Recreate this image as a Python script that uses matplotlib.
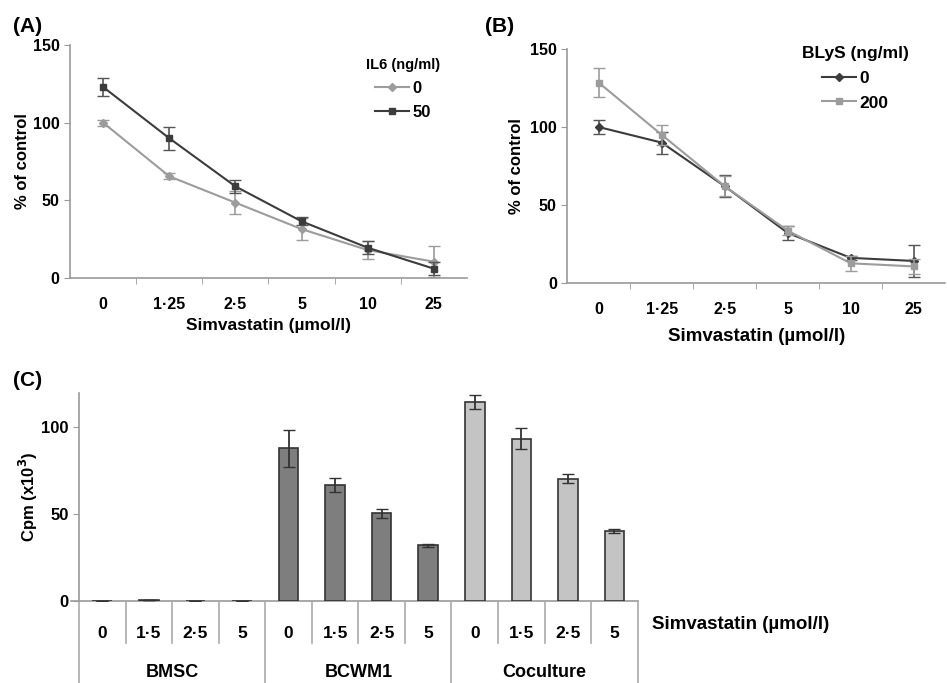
import matplotlib as mpl
import matplotlib.pyplot as plt
import numpy as np

mpl.rcParams["font.family"] = ["Liberation Sans", "DejaVu Sans"]
mpl.rcParams["font.weight"] = "bold"

# panel A / B: dose categories
doses_ab = ["0", "1·25", "2·5", "5", "10", "25"]

il6_0 = [100, 65.5, 48.5, 31.5, 18, 10.5]
il6_0_err = [2, 2, 7.5, 7, 5.5, 10]
il6_50 = [123, 90, 59, 36.5, 19.5, 6]
il6_50_err = [6, 7.5, 4, 2.5, 4, 4]

blys_0 = [100, 90, 62, 32, 16, 14]
blys_0_err = [4.5, 7, 7, 4.5, 1.5, 10]
blys_200 = [128.5, 95, 62, 33.5, 12.5, 10.5]
blys_200_err = [9.5, 6.5, 6.5, 3, 5, 5]

# panel C
doses_c = ["0", "1·5", "2·5", "5"]
groups_c = ["BMSC", "BCWM1", "Coculture"]
bmsc = [0.2, 0.5, 0.2, 0.2]
bmsc_err = [0, 0, 0, 0]
bcwm1 = [88, 67, 50.5, 32]
bcwm1_err = [10.5, 4, 2.5, 0.8]
cocult = [114.5, 93.5, 70.5, 40.5]
cocult_err = [4, 6, 2.5, 1.2]

SPINE = "#9a9a9a"
LIGHT = "#9c9c9c"
DARK = "#3c3c3c"

fig = plt.figure(figsize=(9.47, 6.83), dpi=100)


def style_line_axes(ax, xlab_size, xlab_pad, ylab_pad):
    for s in ["top", "right"]:
        ax.spines[s].set_visible(False)
    for s in ["left", "bottom"]:
        ax.spines[s].set_color(SPINE)
        ax.spines[s].set_linewidth(1.2)
    ax.set_xlim(-0.5, 5.5)
    ax.set_ylim(0, 150)
    ax.set_yticks([0, 50, 100, 150])
    ax.set_xticks(range(6))
    ax.set_xticklabels(doses_ab)
    ax.set_xticks(np.arange(0.5, 5.0, 1), minor=True)
    ax.tick_params(axis="x", which="major", length=0, pad=14, labelsize=11.5)
    ax.tick_params(axis="x", which="minor", length=4, color=SPINE, direction="out")
    ax.tick_params(axis="y", length=4, color=SPINE, labelsize=11.5)
    ax.set_ylabel("% of control", fontsize=12, fontweight="bold", labelpad=ylab_pad)
    ax.set_xlabel("Simvastatin (µmol/l)", fontsize=xlab_size, fontweight="bold",
                  labelpad=xlab_pad)


def draw_series(ax, y, err, color, ecolor, marker, msize, label):
    ax.errorbar(x6, y, yerr=err, fmt="none", ecolor=ecolor, capsize=4, elinewidth=1.2)
    ax.plot(x6, y, color=color, marker=marker, markersize=msize, linewidth=1.5, label=label)


x6 = np.arange(6)

# (A)
axA = fig.add_axes([0.074, 0.593, 0.419, 0.341])
style_line_axes(axA, 12.5, 4, 2)
draw_series(axA, il6_0, il6_0_err, LIGHT, LIGHT, "D", 4, "0")
draw_series(axA, il6_50, il6_50_err, DARK, "#555555", "s", 5, "50")
legA = axA.legend(title="IL6 (ng/ml)", loc="upper right", bbox_to_anchor=(0.97, 1.01),
                  frameon=False, fontsize=12, title_fontsize=10.5, handlelength=2.0,
                  handletextpad=0.2, labelspacing=0.55)
legA.get_title().set_fontweight("bold")
fig.text(0.014, 0.975, "(A)", fontsize=15, fontweight="bold", va="top")

# (B)
axB = fig.add_axes([0.599, 0.586, 0.399, 0.342])
style_line_axes(axB, 13.5, 8, 4)
draw_series(axB, blys_0, blys_0_err, DARK, "#555555", "D", 4, "0")
draw_series(axB, blys_200, blys_200_err, LIGHT, LIGHT, "s", 5, "200")
legB = axB.legend(title="BLyS (ng/ml)", loc="upper right", bbox_to_anchor=(0.945, 1.08),
                  frameon=False, fontsize=12.5, title_fontsize=12.5, handlelength=2.0,
                  handletextpad=0.2, labelspacing=0.55)
legB.get_title().set_fontweight("bold")
fig.text(0.512, 0.975, "(B)", fontsize=15, fontweight="bold", va="top")

# (C)
axC = fig.add_axes([0.0834, 0.12, 0.590, 0.305])
for s in ["top", "right", "bottom"]:
    axC.spines[s].set_visible(False)
axC.spines["left"].set_color(SPINE)
axC.spines["left"].set_linewidth(1.2)
axC.set_xlim(-0.5, 11.5)
axC.set_ylim(0, 120)
axC.set_yticks([0, 50, 100])
axC.tick_params(axis="y", length=4, color=SPINE, labelsize=12)
axC.set_xticks([])
axC.set_ylabel("Cpm (x10$^\\mathbf{3}$)", fontsize=12, fontweight="bold", labelpad=1)
axC.axhline(0, xmin=-0.015, xmax=1, color=SPINE, linewidth=1.2, clip_on=False, zorder=1)

bar_vals = [bmsc, bcwm1, cocult]
bar_errs = [bmsc_err, bcwm1_err, cocult_err]
bar_cols = ["#7e7e7e", "#7e7e7e", "#c4c4c4"]
for gi in range(3):
    xs = np.arange(4) + gi * 4
    axC.bar(xs, bar_vals[gi], width=0.42, color=bar_cols[gi], edgecolor="#333333",
            linewidth=1.2, zorder=2)
    axC.errorbar(xs, bar_vals[gi], yerr=bar_errs[gi], fmt="none", ecolor="#333333",
                 capsize=4, elinewidth=1.3, zorder=3)

trans = mpl.transforms.blended_transform_factory(axC.transData, axC.transAxes)
for i in range(12):
    axC.text(i, -0.155, doses_c[i % 4], transform=trans, ha="center", va="center",
             fontsize=12.5, fontweight="bold")
for i in range(13):
    xb = i - 0.5
    low = -0.395 if i % 4 == 0 else -0.2
    axC.plot([xb, xb], [0, low], transform=trans, color="#aaaaaa", linewidth=1.2,
             clip_on=False)
for gi, g in enumerate(groups_c):
    axC.text(gi * 4 + 1.5, -0.345, g, transform=trans, ha="center", va="center",
             fontsize=13, fontweight="bold")
fig.text(0.688, 0.085, "Simvastatin (µmol/l)", fontsize=13.5, fontweight="bold",
         va="center")
fig.text(0.014, 0.457, "(C)", fontsize=15, fontweight="bold", va="top")

plt.savefig("out.png", dpi=100)
